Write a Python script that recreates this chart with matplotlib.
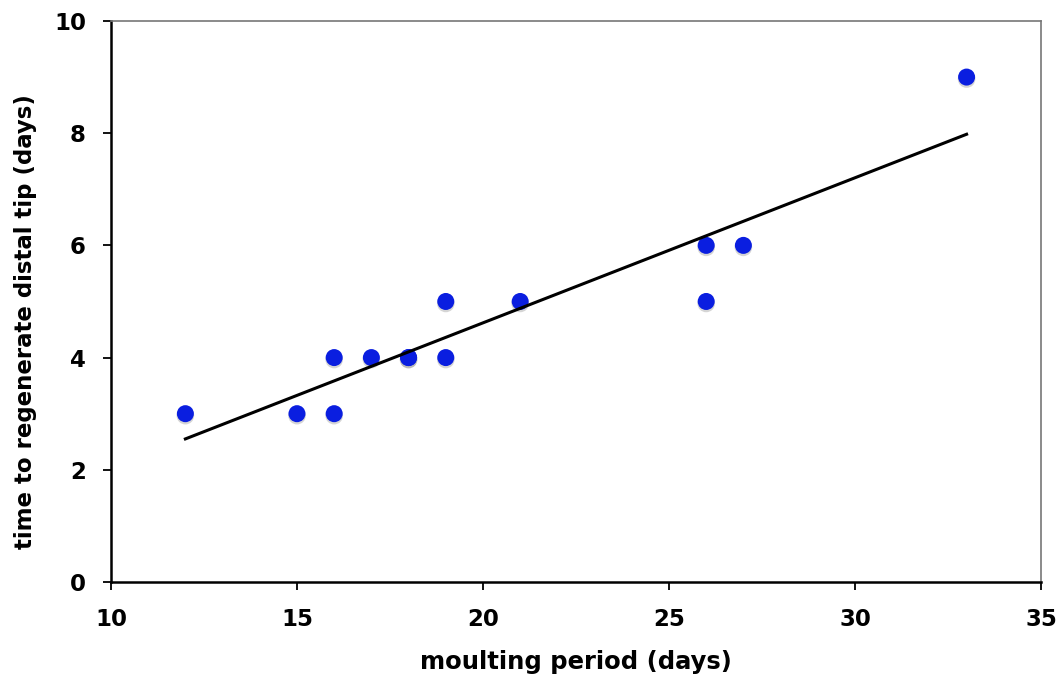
import matplotlib.pyplot as plt
from matplotlib import transforms

# data
moulting_period = [12, 15, 16, 16, 17, 18, 18, 19, 19, 21, 26, 26, 27, 33]
regen_time = [3, 3, 3, 4, 4, 4, 4, 4, 5, 5, 5, 6, 6, 9]
# fitted trend line: y = slope * x + intercept, drawn from min to max x
fit_slope = 0.2586
fit_intercept = -0.553
x_ticks = [10, 15, 20, 25, 30, 35]
y_ticks = [0, 2, 4, 6, 8, 10]

fig = plt.figure(figsize=(10.63, 6.81), dpi=100)
ax = fig.add_axes([0.1044, 0.1454, 0.8749, 0.8238])

# soft grey shadow under each dot
shadow = ax.transData + transforms.ScaledTranslation(0, -2 / 100, fig.dpi_scale_trans)
ax.scatter(moulting_period, regen_time, s=160, color='#888888', alpha=0.35,
           edgecolors='none', transform=shadow, zorder=2)
ax.scatter(moulting_period, regen_time, s=150, color='#0a1ee0',
           edgecolors='none', zorder=3)

x_line = [min(moulting_period), max(moulting_period)]
y_line = [fit_slope * x + fit_intercept for x in x_line]
ax.plot(x_line, y_line, color='black', lw=2.2, zorder=4)

ax.set_xlim(10, 35)
ax.set_ylim(0, 10)
ax.set_xticks(x_ticks)
ax.set_yticks(y_ticks)
ax.tick_params(direction='out', length=6, width=1.3, labelsize=16.5)
ax.tick_params(axis='x', pad=13)
ax.tick_params(axis='y', pad=12)
for lab in ax.get_xticklabels() + ax.get_yticklabels():
    lab.set_fontweight('bold')

ax.spines['left'].set_linewidth(1.8)
ax.spines['bottom'].set_linewidth(1.8)
ax.spines['top'].set_color('#777777')
ax.spines['right'].set_color('#777777')
ax.spines['top'].set_linewidth(1.2)
ax.spines['right'].set_linewidth(1.2)

ax.set_xlabel('moulting period (days)', fontsize=17.5, fontweight='bold')
ax.set_ylabel('time to regenerate distal tip (days)', fontsize=16.5, fontweight='bold')
ax.xaxis.set_label_coords(0.5, -0.122)
ax.yaxis.set_label_coords(-0.08, 0.465)

fig.savefig('out.png', dpi=100)
